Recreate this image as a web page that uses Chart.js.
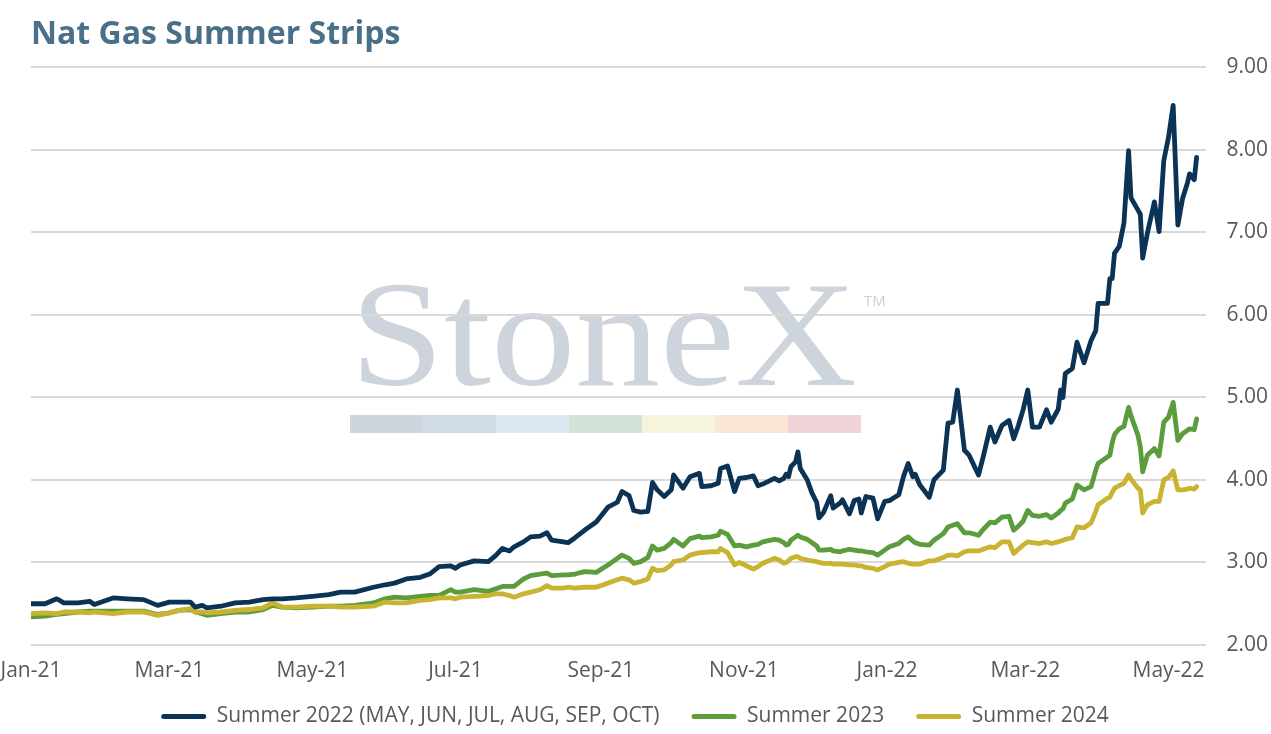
<!DOCTYPE html>
<html>
<head>
<meta charset="utf-8">
<script src="https://cdn.jsdelivr.net/npm/chart.js@4.4.0/dist/chart.umd.min.js"></script>
<style>
  html, body { margin: 0; padding: 0; background: #ffffff; }
  #wrap { width: 1271px; height: 734px; position: relative; }
</style>
</head>
<body>
<div id="wrap"><canvas id="myChart"></canvas></div>
<script>
const dates = [
    "2021-01-01", "2021-01-07", "2021-01-12", "2021-01-15", "2021-01-21", "2021-01-26", "2021-01-28", "2021-02-01",
    "2021-02-05", "2021-02-11", "2021-02-18", "2021-02-24", "2021-03-01", "2021-03-05", "2021-03-10", "2021-03-12",
    "2021-03-15", "2021-03-17", "2021-03-23", "2021-03-29", "2021-04-04", "2021-04-10", "2021-04-14", "2021-04-18",
    "2021-04-24", "2021-05-01", "2021-05-08", "2021-05-13", "2021-05-19", "2021-05-27", "2021-06-01", "2021-06-05",
    "2021-06-10", "2021-06-16", "2021-06-20", "2021-06-24", "2021-06-29", "2021-07-01", "2021-07-03", "2021-07-09",
    "2021-07-15", "2021-07-18", "2021-07-21", "2021-07-24", "2021-07-26", "2021-07-30", "2021-08-02", "2021-08-06",
    "2021-08-09", "2021-08-11", "2021-08-16", "2021-08-18", "2021-08-21", "2021-08-25", "2021-08-30", "2021-09-04",
    "2021-09-08", "2021-09-10", "2021-09-13", "2021-09-15", "2021-09-18", "2021-09-21", "2021-09-23", "2021-09-25",
    "2021-09-28", "2021-10-01", "2021-10-02", "2021-10-06", "2021-10-09", "2021-10-13", "2021-10-14", "2021-10-18",
    "2021-10-21", "2021-10-22", "2021-10-25", "2021-10-28", "2021-10-30", "2021-11-02", "2021-11-05", "2021-11-07",
    "2021-11-09", "2021-11-14", "2021-11-16", "2021-11-18", "2021-11-19", "2021-11-20", "2021-11-21", "2021-11-23",
    "2021-11-24", "2021-11-25", "2021-11-28", "2021-11-30", "2021-12-02", "2021-12-03", "2021-12-05", "2021-12-08",
    "2021-12-09", "2021-12-12", "2021-12-13", "2021-12-16", "2021-12-18", "2021-12-20", "2021-12-21", "2021-12-23",
    "2021-12-26", "2021-12-28", "2021-12-31", "2022-01-02", "2022-01-06", "2022-01-08", "2022-01-10", "2022-01-12",
    "2022-01-13", "2022-01-15", "2022-01-19", "2022-01-21", "2022-01-25", "2022-01-27", "2022-01-29", "2022-01-31",
    "2022-02-03", "2022-02-05", "2022-02-09", "2022-02-11", "2022-02-14", "2022-02-16", "2022-02-19", "2022-02-22",
    "2022-02-24", "2022-02-26", "2022-02-28", "2022-03-02", "2022-03-04", "2022-03-07", "2022-03-10", "2022-03-12",
    "2022-03-15", "2022-03-16", "2022-03-17", "2022-03-18", "2022-03-21", "2022-03-23", "2022-03-26", "2022-03-29",
    "2022-03-31", "2022-04-01", "2022-04-05", "2022-04-06", "2022-04-07", "2022-04-08", "2022-04-10", "2022-04-12",
    "2022-04-14", "2022-04-15", "2022-04-18", "2022-04-19", "2022-04-20", "2022-04-22", "2022-04-25", "2022-04-27",
    "2022-04-29", "2022-05-01", "2022-05-03", "2022-05-05", "2022-05-07", "2022-05-09", "2022-05-10", "2022-05-12",
    "2022-05-13"
];

const summer2022 = [
    2.50, 2.50, 2.56, 2.51, 2.51, 2.53, 2.49, 2.53, 2.57, 2.56, 2.55, 2.48, 2.52, 2.52, 2.52, 2.46,
    2.48, 2.45, 2.47, 2.51, 2.52, 2.55, 2.56, 2.56, 2.57, 2.59, 2.61, 2.64, 2.64, 2.70, 2.73, 2.75,
    2.80, 2.82, 2.86, 2.95, 2.96, 2.93, 2.97, 3.02, 3.01, 3.08, 3.17, 3.14, 3.19, 3.25, 3.31, 3.32,
    3.36, 3.27, 3.25, 3.24, 3.30, 3.39, 3.49, 3.67, 3.73, 3.86, 3.81, 3.63, 3.61, 3.62, 3.97, 3.88,
    3.80, 3.88, 4.06, 3.90, 4.04, 4.08, 3.92, 3.93, 3.96, 4.14, 4.17, 3.86, 4.02, 4.03, 4.05, 3.93,
    3.95, 4.02, 3.99, 4.02, 4.07, 4.04, 4.16, 4.22, 4.34, 4.14, 4.00, 3.84, 3.73, 3.54, 3.61, 3.81,
    3.66, 3.72, 3.76, 3.59, 3.75, 3.77, 3.60, 3.80, 3.78, 3.53, 3.74, 3.75, 3.82, 4.04, 4.20, 4.04,
    4.07, 3.94, 3.79, 4.00, 4.12, 4.69, 4.70, 5.09, 4.36, 4.30, 4.06, 4.28, 4.64, 4.46, 4.66, 4.72,
    4.50, 4.66, 4.85, 5.09, 4.64, 4.64, 4.85, 4.70, 4.86, 5.09, 5.00, 5.29, 5.35, 5.67, 5.42, 5.69,
    5.81, 6.14, 6.14, 6.44, 6.44, 6.75, 6.83, 7.11, 7.99, 7.42, 7.27, 7.22, 6.69, 6.99, 7.37, 7.01,
    7.87, 8.15, 8.54, 7.09, 7.41, 7.59, 7.71, 7.64, 7.91
];

const summer2023 = [
    2.34, 2.35, 2.37, 2.38, 2.40, 2.41, 2.41, 2.41, 2.41, 2.41, 2.41, 2.37, 2.39, 2.42, 2.43, 2.40,
    2.38, 2.36, 2.38, 2.40, 2.40, 2.43, 2.48, 2.46, 2.45, 2.46, 2.47, 2.47, 2.48, 2.51, 2.56, 2.58,
    2.57, 2.59, 2.60, 2.60, 2.67, 2.64, 2.64, 2.67, 2.65, 2.68, 2.71, 2.71, 2.71, 2.80, 2.84, 2.86,
    2.87, 2.84, 2.85, 2.85, 2.86, 2.89, 2.88, 2.97, 3.05, 3.09, 3.05, 2.99, 3.01, 3.06, 3.20, 3.15,
    3.17, 3.24, 3.28, 3.20, 3.29, 3.32, 3.30, 3.31, 3.33, 3.38, 3.34, 3.20, 3.21, 3.19, 3.21, 3.22,
    3.25, 3.28, 3.27, 3.24, 3.21, 3.22, 3.27, 3.31, 3.33, 3.31, 3.28, 3.24, 3.20, 3.15, 3.15, 3.16,
    3.14, 3.13, 3.14, 3.16, 3.15, 3.14, 3.14, 3.13, 3.12, 3.09, 3.15, 3.19, 3.23, 3.28, 3.31, 3.26,
    3.24, 3.22, 3.21, 3.27, 3.35, 3.43, 3.45, 3.47, 3.36, 3.36, 3.33, 3.40, 3.49, 3.48, 3.55, 3.56,
    3.39, 3.44, 3.50, 3.63, 3.57, 3.56, 3.58, 3.54, 3.60, 3.63, 3.65, 3.72, 3.77, 3.94, 3.88, 3.92,
    4.12, 4.20, 4.28, 4.30, 4.45, 4.55, 4.62, 4.65, 4.88, 4.78, 4.54, 4.40, 4.10, 4.30, 4.38, 4.29,
    4.70, 4.76, 4.94, 4.48, 4.56, 4.60, 4.62, 4.61, 4.74
];

const summer2024 = [
    2.38, 2.39, 2.38, 2.40, 2.40, 2.39, 2.40, 2.39, 2.38, 2.40, 2.40, 2.36, 2.39, 2.42, 2.44, 2.40,
    2.40, 2.39, 2.40, 2.42, 2.43, 2.45, 2.51, 2.46, 2.46, 2.47, 2.47, 2.46, 2.46, 2.47, 2.52, 2.51,
    2.51, 2.54, 2.55, 2.57, 2.57, 2.56, 2.58, 2.59, 2.60, 2.62, 2.62, 2.60, 2.58, 2.62, 2.64, 2.67,
    2.72, 2.69, 2.69, 2.70, 2.69, 2.70, 2.70, 2.75, 2.79, 2.81, 2.79, 2.75, 2.77, 2.80, 2.93, 2.90,
    2.91, 2.97, 3.01, 3.03, 3.09, 3.12, 3.12, 3.13, 3.13, 3.17, 3.12, 2.97, 3.00, 2.96, 2.92, 2.95,
    2.99, 3.05, 3.03, 2.99, 3.00, 3.02, 3.05, 3.07, 3.07, 3.05, 3.03, 3.02, 3.01, 3.00, 2.99, 2.99,
    2.98, 2.98, 2.98, 2.97, 2.97, 2.96, 2.96, 2.94, 2.93, 2.91, 2.95, 2.98, 3.00, 3.01, 2.99, 2.98,
    2.98, 2.98, 3.02, 3.02, 3.06, 3.09, 3.09, 3.08, 3.13, 3.14, 3.14, 3.16, 3.19, 3.18, 3.25, 3.25,
    3.11, 3.16, 3.21, 3.25, 3.24, 3.23, 3.25, 3.23, 3.25, 3.26, 3.27, 3.28, 3.30, 3.43, 3.42, 3.48,
    3.62, 3.70, 3.78, 3.79, 3.85, 3.90, 3.93, 3.96, 4.06, 4.01, 3.90, 3.88, 3.60, 3.70, 3.74, 3.74,
    4.00, 4.03, 4.11, 3.88, 3.88, 3.89, 3.90, 3.89, 3.92
];

const tickDates = ["2021-01-01", "2021-03-01", "2021-05-01", "2021-07-01", "2021-09-01",
                   "2021-11-01", "2022-01-01", "2022-03-01", "2022-05-01"];
const tickLabels = ["Jan-21", "Mar-21", "May-21", "Jul-21", "Sep-21", "Nov-21", "Jan-22", "Mar-22", "May-22"];
const axisEnd = "2022-05-17";

// days since 1 Jan 2021
function dayNum(s) {
    const p = s.split("-").map(Number);
    return (Date.UTC(p[0], p[1] - 1, p[2]) - Date.UTC(2021, 0, 1)) / 86400000;
}

function points(values) {
    return values.map((v, i) => ({ x: dayNum(dates[i]), y: v }));
}

const textColor = "#595959";
const baseFont = "'Open Sans', 'Noto Sans', sans-serif";

// StoneX watermark, drawn before the grid and the lines
const watermark = {
    id: "watermark",
    beforeDraw(chart) {
        const c = chart.ctx;
        c.save();
        c.fillStyle = "#ced4dc";
        c.font = "151px 'Liberation Serif', serif";
        c.textBaseline = "alphabetic";
        const w = c.measureText("StoneX").width;
        c.translate(350, 385);
        c.scale(507 / w, 1);
        c.fillText("StoneX", 0, 0);
        c.setTransform(1, 0, 0, 1, 0, 0);
        c.fillStyle = "#c9cfd7";
        c.font = "15px 'Open Sans', sans-serif";
        c.fillText("TM", 864, 306);
        const bar = ["#cfd5dd", "#d2dce7", "#dce9f3", "#d3e3d9", "#f6f4dd", "#f9e6d4", "#f1d4d7"];
        bar.forEach((col, i) => {
            c.fillStyle = col;
            c.fillRect(350 + i * 73, 415, 73, 18);
        });
        c.restore();
    }
};

const ctx = document.getElementById("myChart");

new Chart(ctx, {
    type: "line",
    data: {
        datasets: [{
            label: "Summer 2022 (MAY, JUN, JUL, AUG, SEP, OCT)",
            data: points(summer2022),
            borderColor: "#0b3356",
            backgroundColor: "#0b3356",
            order: 0,
        }, {
            label: "Summer 2023",
            data: points(summer2023),
            borderColor: "#5b9c3d",
            backgroundColor: "#5b9c3d",
            order: 2,
        }, {
            label: "Summer 2024",
            data: points(summer2024),
            borderColor: "#c9b432",
            backgroundColor: "#c9b432",
            order: 1,
        }, ],
    },
    options: {
        responsive: true,
        maintainAspectRatio: false,
        animation: false,
        devicePixelRatio: 1,
        layout: {
            padding: { left: 31, right: 32, top: 0, bottom: -3 },
        },
        elements: {
            line: { borderWidth: 4.8, tension: 0, borderJoinStyle: "round", borderCapStyle: "round" },
            point: { radius: 0 },
        },
        scales: {
            x: {
                type: "linear",
                min: 0,
                max: dayNum(axisEnd),
                grid: { display: false, drawTicks: false },
                border: { display: false },
                afterBuildTicks: (scale) => {
                    scale.ticks = tickDates.map(d => ({ value: dayNum(d) }));
                },
                afterFit: (scale) => {
                    scale.height = 29;
                    scale.paddingLeft = 0;
                    scale.paddingRight = 0;
                },
                ticks: {
                    autoSkip: false,
                    maxRotation: 0,
                    mirror: true,
                    padding: -39,
                    color: textColor,
                    font: { family: baseFont, size: 21 },
                    callback: (v) => tickLabels[tickDates.findIndex(d => dayNum(d) === v)],
                },
            },
            y: {
                position: "right",
                min: 2,
                max: 9,
                grid: { color: "#d9d9d9", lineWidth: 2, drawTicks: false },
                border: { display: false },
                afterFit: (scale) => {
                    scale.width = 33;
                    scale.paddingTop = 0;
                    scale.paddingBottom = 0;
                },
                ticks: {
                    stepSize: 1,
                    mirror: true,
                    crossAlign: "near",
                    padding: 62,
                    color: textColor,
                    font: { family: baseFont, size: 21 },
                    callback: (v) => v.toFixed(2),
                },
            },
        },
        plugins: {
            title: {
                display: true,
                text: "Nat Gas Summer Strips",
                align: "start",
                color: "#4a7089",
                font: { family: "'Open Sans', sans-serif", size: 32, weight: "bold" },
                padding: { top: 16, bottom: 13 },
            },
            legend: {
                position: "bottom",
                labels: {
                    boxWidth: 45,
                    boxHeight: 5,
                    padding: 32,
                    color: textColor,
                    font: { family: baseFont, size: 21 },
                    generateLabels: (chart) => chart.data.datasets.map((ds, i) => ({
                        text: ds.label,
                        fillStyle: ds.borderColor,
                        strokeStyle: ds.borderColor,
                        lineWidth: 0,
                        borderRadius: 2.5,
                        hidden: false,
                        datasetIndex: i,
                        fontColor: textColor,
                    })),
                },
            },
            tooltip: { enabled: false },
        },
    },
    plugins: [watermark],
});
</script>
</body>
</html>
